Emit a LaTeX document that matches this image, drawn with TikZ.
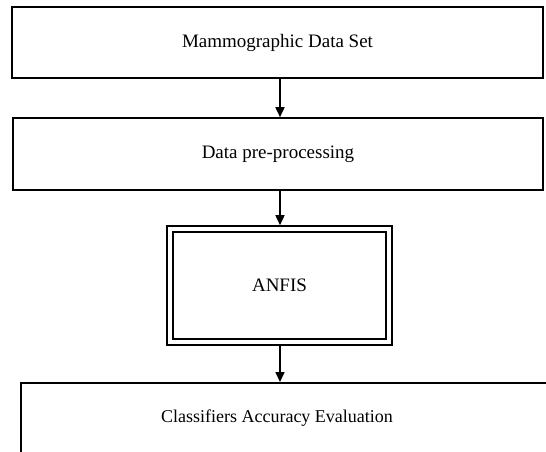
\documentclass[tikz,border=0pt]{standalone}
\usepackage{fontspec}
\setmainfont{Liberation Serif}
\usetikzlibrary{arrows.meta}
\begin{document}
\begin{tikzpicture}[x=1pt,y=-1pt,
  box/.style={draw, line width=1.6pt, rectangle, inner sep=0pt},
  lbl/.style={font=\fontsize{19}{22}\selectfont},
  arr/.style={line width=1.6pt, -{Triangle[length=10pt,width=9pt]}}]
\useasboundingbox (0,0) rectangle (546,451);
\clip (0,0) rectangle (546,451);
\coordinate (ax) at (280,0);
\node[box, lbl, minimum width=531pt, minimum height=71pt] (b1) at (277.5,42.5) {Mammographic Data Set};
\node[box, lbl, minimum width=530pt, minimum height=72pt] (b2) at (278,154) {Data pre-processing};
\node[box, lbl, minimum width=225pt, minimum height=119pt] (b3) at (279.5,285.5) {ANFIS};
\draw[line width=1.6pt] ([shift={(7,7)}]b3.north west) rectangle ([shift={(-7,-7)}]b3.south east);
\node[box, minimum width=600pt, minimum height=200pt, anchor=north west] (b4) at (20,382) {};
\node[font=\fontsize{18}{21}\selectfont] (t4) at (277,418) {Classifiers Accuracy Evaluation};
\draw[arr] (b1.south -| ax) -- (b2.north -| ax);
\draw[arr] (b2.south -| ax) -- (b3.north -| ax);
\draw[arr] (b3.south -| ax) -- (b4.north -| ax);
\end{tikzpicture}
\end{document}
